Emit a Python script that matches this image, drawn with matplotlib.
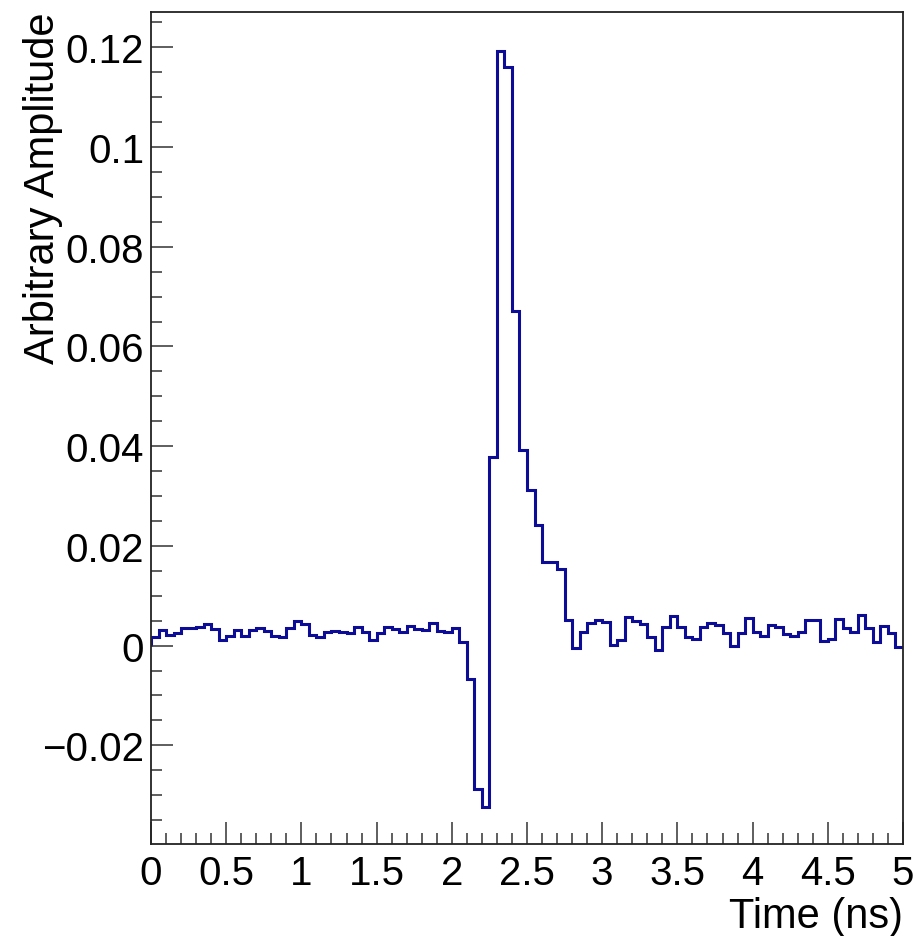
import numpy as np
import matplotlib
matplotlib.use('Agg')
import matplotlib.pyplot as plt
from matplotlib.ticker import MultipleLocator, FuncFormatter

# Histogram binning: 100 bins between 0 and 5 ns
t_min, t_max, n_bins = 0.0, 5.0, 100

# Bin contents
amplitude = [
    0.0017, 0.0031, 0.0022, 0.0025, 0.0035, 0.0035, 0.0037, 0.0043, 0.0033, 0.0012,
    0.0019, 0.0031, 0.0020, 0.0031, 0.0036, 0.0030, 0.0020, 0.0017, 0.0035, 0.0049,
    0.0043, 0.0021, 0.0017, 0.0028, 0.0030, 0.0028, 0.0026, 0.0037, 0.0027, 0.0011,
    0.0025, 0.0038, 0.0033, 0.0028, 0.0040, 0.0033, 0.0031, 0.0045, 0.0030, 0.0027,
    0.0036, 0.0008, -0.0068, -0.0287, -0.0324, 0.0378, 0.1192, 0.1161, 0.0671, 0.0393,
    0.0313, 0.0241, 0.0167, 0.0167, 0.0154, 0.0051, -0.0004, 0.0028, 0.0045, 0.0051,
    0.0048, 0.0001, 0.0011, 0.0058, 0.0050, 0.0043, 0.0018, -0.0008, 0.0037, 0.0059,
    0.0037, 0.0018, 0.0013, 0.0037, 0.0045, 0.0041, 0.0026, -0.0001, 0.0025, 0.0055,
    0.0027, 0.0019, 0.0041, 0.0038, 0.0023, 0.0019, 0.0028, 0.0051, 0.0051, 0.0009,
    0.0014, 0.0054, 0.0035, 0.0028, 0.0061, 0.0035, 0.0008, 0.0039, 0.0025, -0.0002,
]

plt.rcParams['font.family'] = ['Liberation Sans', 'DejaVu Sans']

fig = plt.figure(figsize=(9.17, 9.37), dpi=100)
ax = fig.add_axes([151/917, 1 - 845/937, (903 - 151)/917, (845 - 13)/937])

edges = np.linspace(t_min, t_max, n_bins + 1)
ax.stairs(amplitude, edges, color='#0c0c96', linewidth=2.2)

ax.set_xlim(t_min, t_max)
ax.set_ylim(-0.0398, 0.1271)

# ROOT style: %g labels with a real minus sign
fmt = FuncFormatter(lambda v, pos: ('%g' % v).replace('-', '\u2212'))

# ticks inside, left and bottom only
ax.xaxis.set_major_locator(MultipleLocator(0.5))
ax.xaxis.set_minor_locator(MultipleLocator(0.1))
ax.yaxis.set_major_locator(MultipleLocator(0.02))
ax.yaxis.set_minor_locator(MultipleLocator(0.005))
ax.xaxis.set_major_formatter(fmt)
ax.yaxis.set_major_formatter(fmt)
ax.tick_params(which='both', direction='in', top=False, right=False,
               width=1.1, color='#333333')
ax.tick_params(which='major', length=16)
ax.tick_params(which='minor', length=8)
ax.tick_params(axis='x', labelsize=29, pad=7)
ax.tick_params(axis='y', labelsize=29, pad=5)

for s in ax.spines.values():
    s.set_linewidth(1.3)
    s.set_color('#222222')

ax.set_xlabel('Time (ns)', fontsize=30, loc='right')
ax.set_ylabel('Arbitrary Amplitude', fontsize=30, loc='top')
ax.xaxis.set_label_coords(1.0, -0.062)
ax.yaxis.set_label_coords(-0.117, 1.0)

plt.savefig('out.png', dpi=100)
